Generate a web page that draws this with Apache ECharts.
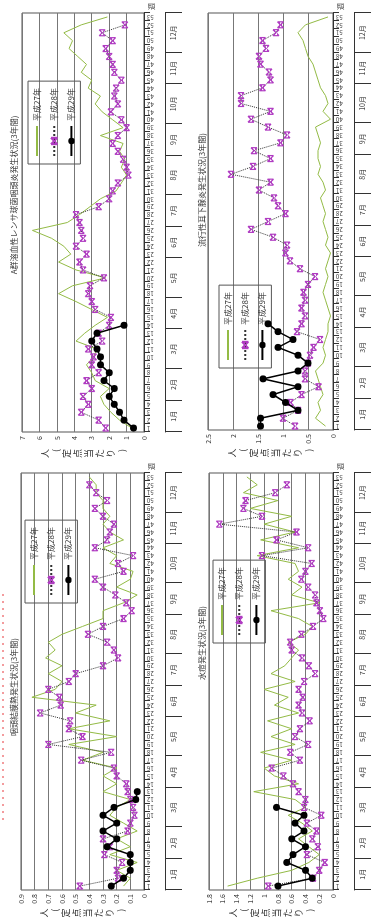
<!DOCTYPE html>
<html>
<head>
<meta charset="utf-8">
<script src="https://cdn.jsdelivr.net/npm/echarts@6/dist/echarts.min.js"></script>
<style>
html, body { margin: 0; padding: 0; width: 373px; height: 921px; overflow: hidden; background: #fff; }
/* the sheet is laid out in landscape and turned a quarter turn counter-clockwise */
#sheet { position: absolute; left: 0; top: 0; width: 921px; height: 373px;
  transform-origin: 0 0; transform: translate(0, 921px) rotate(-90deg); }
</style>
</head>
<body>
<div id="sheet"></div>
<script>
// week numbers on the category axis
const weeks = ['1','2','3','4','5','6','7','8','9','10','11','12','13','14','15','16','17','18','19','20',
  '21','22','23','24','25','26','27','28','29','30','31','32','33','34','35','36','37','38','39','40',
  '41','42','43','44','45','46','47','48','49','50','51','52','53'];
const monthNames = ['1月','2月','3月','4月','5月','6月','7月','8月','9月','10月','11月','12月'];
// first week of each month, plus one past the last week
const monthStartWeeks = [1, 5, 9, 14, 18, 23, 27, 31, 36, 40, 45, 49, 54];
const seriesNames = ['平成27年', '平成28年', '平成29年'];

// A群溶血性レンサ球菌咽頭炎 (per sentinel site)
const strepH27 = [0.7,1.4,1.9,2.3,2.5,2.0,2.8,3.0,3.3,2.9,2.7,3.9,3.4,2.8,2.1,3.0,3.9,4.9,4.1,2.2,3.9,4.9,4.2,4.6,5.3,6.4,4.4,3.7,3.1,2.5,1.6,1.3,1.0,1.3,1.1,1.4,1.2,2.5,1.2,1.8,2.4,2.8,2.5,3.2,3.0,3.6,3.3,3.8,4.3,4.1,4.6,3.6,2.1];
const strepH28 = [2.2,2.6,3.6,3.2,3.5,3.0,3.3,2.6,3.0,2.9,3.2,2.4,2.6,2.0,1.9,2.8,3.0,3.2,3.1,2.3,3.5,3.7,3.3,3.9,3.5,3.6,3.7,3.9,2.6,2.0,1.8,1.5,0.9,1.0,1.2,1.5,1.8,1.5,1.0,1.3,1.9,1.5,1.7,1.6,1.3,1.7,1.8,2.0,2.2,1.8,2.4,1.1];
const strepH29 = [0.6,1.15,1.4,1.7,2.0,1.7,2.3,2.0,2.5,2.5,2.7,3.0,2.7,1.15];

// 流行性耳下腺炎
const mumpsH27 = [0.15,0.35,0.25,0.3,0.2,0.25,0.3,0.35,0.2,0.15,0.2,0.15,0.1,0.1,0.05,0.1,0.15,0.2,0.15,0.1,0.15,0.1,0.05,0.15,0.1,0.15,0.2,0.15,0.2,0.25,0.15,0.2,0.3,0.25,0.3,0.3,0.25,0.3,0.35,0.05,0.2,0.1,0.15,0.25,0.3,0.35,0.4,0.5,0.55,0.6,0.7,0.55,0.1];
const mumpsH28 = [0.76,1.0,0.7,0.85,0.63,0.29,0.56,0.56,0.5,0.46,0.39,0.26,0.72,0.63,0.56,0.63,0.56,0.59,0.5,0.36,0.66,0.86,0.95,0.92,1.2,1.64,1.3,0.95,1.1,1.18,1.48,1.25,2.04,1.6,1.25,1.58,1.05,0.92,1.3,1.64,1.25,1.84,1.84,1.41,1.25,1.28,1.45,1.48,1.34,1.41,1.14,1.05];
const mumpsH29 = [1.45,1.45,0.7,0.95,1.2,0.7,1.4,0.7,0.5,0.7,1.1,0.8,1.1,1.3];

// 咽頭結膜熱
const pcfH27 = [0.15,0.1,0.2,0.05,0.25,0.1,0.2,0.05,0.15,0.25,0.2,0.1,0.3,0.2,0.3,0.2,0.45,0.3,0.55,0.2,0.55,0.25,0.5,0.35,0.82,0.65,0.6,0.7,0.6,0.72,0.65,0.7,0.6,0.45,0.3,0.3,0.15,0.05,0.2,0.1,0.08,0.25,0.2,0.3,0.15,0.25,0.3,0.25,0.3,0.3,0.35,0.35,0.4];
const pcfH28 = [0.47,0.19,0.2,0.16,0.29,0.25,0.3,0.12,0.1,0.07,0.08,0.1,0.12,0.13,0.2,0.22,0.46,0.24,0.7,0.45,0.55,0.54,0.76,0.61,0.62,0.7,0.55,0.5,0.3,0.19,0.22,0.27,0.41,0.3,0.15,0.09,0.13,0.21,0.3,0.36,0.15,0.19,0.08,0.36,0.27,0.25,0.22,0.3,0.36,0.27,0.35,0.4];
const pcfH29 = [0.24,0.15,0.1,0.1,0.1,0.27,0.2,0.3,0.2,0.3,0.22,0.06,0.05];

// 水痘
const vzvH27 = [1.53,1.1,0.6,0.35,0.2,0.35,0.5,0.3,0.45,0.65,0.4,0.55,1.15,0.5,0.85,1.0,0.6,1.05,0.55,0.9,0.6,0.95,0.5,0.85,0.65,1.0,0.55,0.9,0.7,0.6,0.5,0.65,0.4,0.3,0.5,0.9,0.2,0.6,0.45,0.65,0.5,0.55,1.1,0.5,1.05,0.55,1.0,0.6,1.2,0.8,1.3,1.1,1.25];
const vzvH28 = [0.94,0.29,0.2,0.12,0.38,0.22,0.3,0.24,0.38,0.17,0.42,0.4,0.5,0.58,0.72,0.89,0.48,0.62,0.36,0.55,0.48,0.34,0.45,0.5,0.44,0.5,0.42,0.26,0.35,0.45,0.6,0.62,0.46,0.29,0.14,0.19,0.24,0.26,0.36,0.46,0.4,0.31,1.03,0.36,0.82,0.53,1.65,1.03,1.3,1.27,0.84,0.67];
const vzvH29 = [0.8,0.3,0.4,0.67,0.58,0.4,0.6,0.42,0.55,0.42,0.82];

const panels = [
  { title: 'A群溶血性レンサ球菌咽頭炎発生状況(3年間)', max: 7, interval: 1, data: [strepH27, strepH28, strepH29],
    grid: { left: 489, top: 22, width: 419, height: 122 }, legend: { left: 757, top: 28 }, titleAt: [721, 5] },
  { title: '流行性耳下腺炎発生状況(3年間)', max: 2.5, interval: 0.5, data: [mumpsH27, mumpsH28, mumpsH29],
    grid: { left: 491, top: 208, width: 417, height: 125 }, legend: { left: 553, top: 219 }, titleAt: [726, 193] },
  { title: '咽頭結膜熱発生状況(3年間)', max: 0.9, interval: 0.1, data: [pcfH27, pcfH28, pcfH29],
    grid: { left: 31, top: 21, width: 417, height: 123 }, legend: { left: 318, top: 25 }, titleAt: [229, 5] },
  { title: '水痘発生状況(3年間)', max: 1.8, interval: 0.2, data: [vzvH27, vzvH28, vzvH29],
    grid: { left: 31, top: 209, width: 417, height: 124 }, legend: { left: 278, top: 213 }, titleAt: [273, 193] }
];

const FONT = '"Noto Sans CJK JP", "Noto Sans", sans-serif';
const GREEN = '#93bb45';
const monthBounds = monthStartWeeks.map(w => w - 0.5);
const monthCenters = monthStartWeeks.slice(0, -1).map((w, i) => (w + monthStartWeeks[i + 1] - 1) / 2);
const crossMark = 'path://M0,0L10,10M0,10L10,0M0,0L0,10M10,0L10,10';

const option = {
  animation: false,
  backgroundColor: '#fff',
  textStyle: { fontFamily: FONT },
  title: [], grid: [], xAxis: [], yAxis: [], legend: [], series: [],
  graphic: [
    { type: 'line', shape: { x1: 101, y1: 3, x2: 331, y2: 3 },
      style: { stroke: '#e8383d', lineWidth: 1, lineDash: [2, 5] } }
  ]
};

panels.forEach((p, i) => {
  option.title.push({
    text: p.title, left: p.titleAt[0], top: p.titleAt[1], textAlign: 'center',
    textStyle: { fontSize: 8, fontWeight: 'normal', color: '#333', fontFamily: FONT }
  });
  option.grid.push(Object.assign({ show: true, borderColor: '#555', borderWidth: 1, backgroundColor: 'transparent' }, p.grid));
  // weekly category axis
  option.xAxis.push({
    type: 'category', gridIndex: i, data: weeks, boundaryGap: true, position: 'bottom',
    name: '週', nameLocation: 'end', nameGap: 3,
    nameTextStyle: { fontSize: 7, color: '#333', verticalAlign: 'top', padding: [4, 0, 0, 0] },
    axisLine: { show: true, lineStyle: { color: '#333', width: 1 } },
    axisTick: { show: true, length: 6, interval: 0, lineStyle: { color: '#333' } },
    axisLabel: { interval: 0, rotate: 90, fontSize: 6, color: '#333', margin: 3 },
    splitLine: { show: false }
  });
  // month row under the week numbers
  option.xAxis.push({
    type: 'value', gridIndex: i, min: 0.5, max: 53.5, position: 'bottom', offset: 21,
    axisLine: { show: true, lineStyle: { color: '#333', width: 1 } },
    axisTick: { show: true, length: 17, customValues: monthBounds, lineStyle: { color: '#333' } },
    axisLabel: { customValues: monthCenters, fontSize: 7, color: '#333', margin: 5,
      formatter: v => monthNames[monthCenters.indexOf(v)] || '' },
    splitLine: { show: false }
  });
  option.yAxis.push({
    type: 'value', gridIndex: i, min: 0, max: p.max, interval: p.interval,
    name: '人\n(\n定\n点\n当\nた\nり\n)', nameLocation: 'middle', nameGap: 17, nameRotate: 0,
    nameTextStyle: { fontSize: 9, lineHeight: 11, color: '#333' },
    axisLine: { show: false }, axisTick: { show: false },
    axisLabel: { fontSize: 7, color: '#333', margin: 4 },
    splitLine: { show: true, lineStyle: { color: '#777', width: 1 } }
  });
  option.legend.push({
    data: [
      { name: seriesNames[0], itemStyle: { color: 'transparent', borderColor: 'transparent' } },
      { name: seriesNames[1] },
      { name: seriesNames[2] }
    ],
    orient: 'vertical', left: p.legend.left, top: p.legend.top,
    itemWidth: 30, itemHeight: 8, itemGap: 9, selectedMode: false,
    borderColor: '#555', borderWidth: 1, padding: [5, 7],
    textStyle: { fontSize: 8, color: '#333', fontFamily: FONT }
  });
  const xi = i * 2;
  option.series.push(
    { name: seriesNames[0], type: 'line', xAxisIndex: xi, yAxisIndex: i, data: p.data[0],
      symbol: 'none', lineStyle: { color: GREEN, width: 1 }, itemStyle: { color: GREEN }, z: 2 },
    { name: seriesNames[1], type: 'line', xAxisIndex: xi, yAxisIndex: i, data: p.data[1],
      symbol: crossMark, symbolSize: 6, showAllSymbol: true,
      lineStyle: { color: '#333', width: 1, type: 'dotted' },
      itemStyle: { color: '#b03cc2', borderColor: '#b03cc2', borderWidth: 1.2 }, z: 3 },
    { name: seriesNames[2], type: 'line', xAxisIndex: xi, yAxisIndex: i, data: p.data[2],
      symbol: 'circle', symbolSize: 7, showAllSymbol: true,
      lineStyle: { color: '#000', width: 1.5 }, itemStyle: { color: '#000' }, z: 4 }
  );
});

const chart = echarts.init(document.getElementById('sheet'), null, { renderer: 'canvas', width: 921, height: 373 });
chart.setOption(option);
</script>
</body>
</html>
